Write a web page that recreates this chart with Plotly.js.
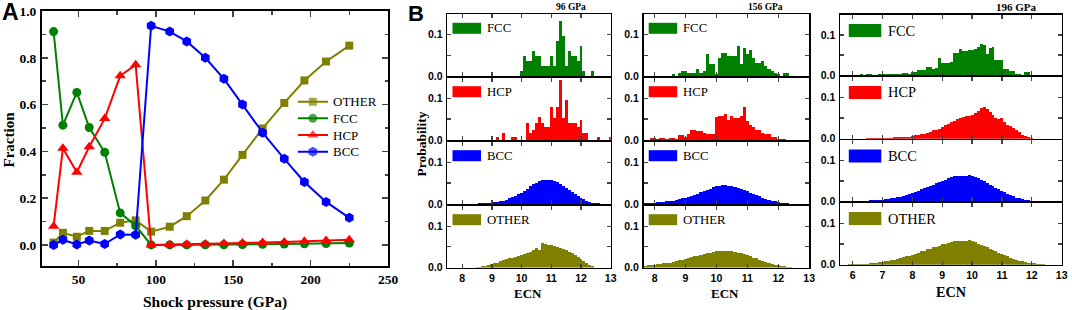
<!DOCTYPE html>
<html><head><meta charset="utf-8">
<script src="https://cdn.plot.ly/plotly-3.0.1.min.js"></script>
<style>body{margin:0;background:#fff}#chart{width:1072px;height:310px}</style>
</head><body><div id="chart"></div>
<script>
// ---------- Panel A data ----------
const pressure  = [34,40,49,57,67,77,87,97,109,120,132,144,156,169,183,196,210,225];
const fracOther = [0.010,0.052,0.035,0.060,0.060,0.095,0.105,0.057,0.078,0.123,0.190,0.279,0.385,0.498,0.607,0.703,0.784,0.852];
const fracFCC   = [0.912,0.512,0.652,0.502,0.396,0.137,0.082,0.000,0.000,0.000,0.001,0.001,0.002,0.003,0.004,0.005,0.006,0.008];
const fracHCP   = [0.080,0.413,0.311,0.420,0.540,0.723,0.770,0.000,0.002,0.003,0.004,0.006,0.008,0.010,0.013,0.016,0.019,0.022];
const fracBCC   = [0.000,0.022,0.002,0.019,0.004,0.045,0.044,0.937,0.912,0.870,0.800,0.710,0.600,0.480,0.368,0.269,0.184,0.116];
const seriesNames = ['OTHER','FCC','HCP','BCC'];
const pressureTicks = [50,100,150,200,250];
const fractionTicks = [0,0.2,0.4,0.6,0.8,1.0];

// ---------- Panel B data (probability per ECN bin, bin width 0.1) ----------
const binWidth = 0.1;
const phases = ['FCC','HCP','BCC','OTHER'];
const panelTitles = ['96 GPa','156 GPa','196 GPa'];
const ecnTicks = [[8,9,10,11,12,13],[8,9,10,11,12,13],[6,7,8,9,10,11,12,13]];
const probTicks = [0,0.1];

const fcc96Start = 10.0;
const fcc96 = [0.012,0.048,0.036,0.036,0.060,0.048,0.048,0.024,0.024,0.024,0.048,0.024,0.084,0.133,0.096,0.024,0.060,0.048,0.048,0.036,0.072,0.012,0,0,0.012];
const hcp96Start = 9.2;
const hcp96 = [0.008,0,0.016,0,0,0.008,0.008,0,0,0,
  0.040,0.016,0.024,0.040,0.056,0.040,0.032,0.032,
  0.080,0.053,0.080,0.143,0.053,0.096,0.040,0.040,0.040,0.032,
  0.048,0.016,0.016,0,0,0,0.008,0,0,0,0.008];
const bcc96Start = 8.6;
const bcc96 = [0.001,0.001,0.002,0.002,0.003,0.004,0.005,0.006,0.008,0.010,
  0.013,0.016,0.019,0.023,0.027,0.032,0.037,0.042,0.047,0.051,
  0.055,0.057,0.058,0.058,0.057,0.055,0.052,0.048,0.044,0.039,
  0.034,0.029,0.024,0.019,0.015,0.011,0.008,0.005,0.003,0.002,0.001];
const other96Start = 8.5;
const other96 = [0.001,0.002,0.003,0.004,0.006,0.008,0.010,0.012,0.015,0.017,
  0.020,0.022,0.024,0.026,0.028,0.030,0.032,0.035,0.038,0.042,
  0.047,0.043,0.060,0.058,0.055,0.054,0.052,0.050,0.048,0.045,
  0.042,0.038,0.034,0.030,0.025,0.020,0.015,0.010,0.006,0.003];

const fcc156Start = 8.6;
const fcc156 = [0.004,0,0.008,0.012,0.012,0.008,0.008,0.008,0.016,0.008,
  0.012,0.052,0.028,0.028,0.004,0.044,0.056,0.056,0.048,0.048,
  0.048,0.072,0.028,0.068,0.052,0.064,0.044,0.032,0.032,0.036,
  0.024,0.016,0.012,0.008,0.004,0,0.008,0.008];
const hcp156Start = 7.9;
const hcp156 = [0.005,0.005,0.003,0.005,0.005,0.003,0.004,0.004,0.003,0.011,
  0.011,0.008,0.013,0.025,0.025,0.021,0.021,0.016,0.013,0.013,
  0.013,0.055,0.058,0.058,0.063,0.049,0.058,0.053,0.053,0.058,
  0.080,0.045,0.035,0.031,0.024,0.024,0.017,0.013,0.013,0.008,
  0.008,0.003,0.003,0.002];
const bcc156Start = 7.7;
const bcc156 = [0.002,0.002,0.003,0.003,0.004,0.004,0.005,0.006,0.007,0.008,
  0.009,0.011,0.013,0.015,0.017,0.020,0.022,0.025,0.028,0.031,
  0.034,0.037,0.040,0.042,0.044,0.045,0.045,0.044,0.043,0.041,
  0.039,0.036,0.033,0.030,0.027,0.024,0.021,0.018,0.015,0.012,
  0.010,0.008,0.006,0.004,0.003,0.002,0.001];
const other156Start = 7.7;
const other156 = [0.004,0.005,0.006,0.007,0.008,0.009,0.010,0.011,0.012,0.013,
  0.015,0.017,0.019,0.021,0.023,0.025,0.027,0.028,0.030,0.032,
  0.034,0.036,0.038,0.039,0.040,0.041,0.041,0.040,0.039,0.037,
  0.036,0.034,0.032,0.030,0.027,0.024,0.022,0.019,0.016,0.014,
  0.012,0.009,0.007,0.005,0.004,0.003,0.002,0.001];

const fcc196Start = 6.3;
const fcc196 = [0.002,0,0.002,0.002,0,0,0.002,0.002,0.002,0.002,
  0.004,0.004,0.002,0.004,0.006,0.006,0.004,0.008,0.008,0.012,
  0.014,0.012,0.021,0.021,0.016,0.018,0.043,0.031,0.031,0.031,
  0.034,0.055,0.055,0.065,0.059,0.059,0.063,0.063,0.065,0.070,
  0.078,0.075,0.052,0.068,0.071,0.037,0.037,0.037,0.016,0.016,
  0.010,0.010,0.004,0.004,0,0.008,0.008];
const hcp196Start = 6.5;
const hcp196 = [0.001,0.001,0.001,0.001,0.001,0.002,0.002,0.002,0.002,0.003,
  0.003,0.003,0.004,0.004,0.004,0.006,0.008,0.008,0.012,0.012,
  0.015,0.016,0.020,0.022,0.024,0.028,0.032,0.036,0.040,0.044,
  0.048,0.050,0.052,0.054,0.055,0.058,0.062,0.066,0.074,0.078,
  0.072,0.064,0.058,0.050,0.048,0.050,0.040,0.034,0.030,0.026,
  0.020,0.016,0.010,0.006,0.003,0.001];
const bcc196Start = 6.2;
const bcc196 = [0.001,0.001,0.001,0.001,0.002,0.002,0.003,0.003,0.004,0.005,
  0.006,0.007,0.008,0.010,0.011,0.013,0.015,0.018,0.020,0.023,
  0.026,0.029,0.032,0.035,0.038,0.041,0.044,0.047,0.050,0.053,
  0.056,0.059,0.061,0.063,0.063,0.061,0.063,0.065,0.062,0.059,
  0.056,0.052,0.049,0.045,0.041,0.037,0.033,0.029,0.025,0.022,
  0.018,0.015,0.012,0.009,0.007,0.005,0.003,0.002,0.001,0.001];
const other196Start = 5.9;
const other196 = [0.001,0.001,0.001,0.001,0.002,0.002,0.002,0.003,0.004,0.005,
  0.006,0.007,0.008,0.009,0.011,0.012,0.014,0.016,0.018,0.020,
  0.022,0.024,0.027,0.029,0.032,0.034,0.037,0.039,0.042,0.044,
  0.046,0.049,0.051,0.053,0.055,0.057,0.057,0.057,0.057,0.058,
  0.059,0.057,0.054,0.051,0.048,0.045,0.042,0.039,0.035,0.032,
  0.029,0.026,0.023,0.020,0.017,0.014,0.012,0.010,0.008,0.006,
  0.005,0.004,0.003,0.002,0.001,0.001];

const histograms = [
  [[fcc96Start,fcc96],[hcp96Start,hcp96],[bcc96Start,bcc96],[other96Start,other96]],
  [[fcc156Start,fcc156],[hcp156Start,hcp156],[bcc156Start,bcc156],[other156Start,other156]],
  [[fcc196Start,fcc196],[hcp196Start,hcp196],[bcc196Start,bcc196],[other196Start,other196]]
];

// ---------- styling / geometry ----------
const phaseColors = ['#008000','#FF0000','#0000FF','#808000'];
const W = 1072, H = 310;
const px = v => v / W, py = v => 1 - v / H;
const serif = 'Liberation Serif, Times New Roman, serif';
const sans = 'Liberation Sans, Arial, sans-serif';

const lwA = 2, lwB = 1.6;
const colDom = [[446.5,611.5],[642.7,810],[839.3,1062.5]];
const colRange = [[7.5,13],[7.64,13],[5.58,13]];
const rowLines = [
  [13.3,76.7,140.7,204.7,268.3],
  [13.3,76.7,140.7,204.7,268.3],
  [14,76,139.5,202,265.5]
];
const legBox = [ {x0:6,x1:34.5,y0:9.5,y1:20.5,tx:38.5,fs:12.8},
                 {x0:6,x1:34.5,y0:9.5,y1:20.5,tx:38.5,fs:12.8},
                 {x0:9.5,x1:42,y0:10,y1:23,tx:46.5,fs:14.4} ];
const titleFs = [9.5,9.5,11];
const titleX = [571,765,1016.7];
const ecnPos = [[528.3,293,13],[724.5,293,13],[951,292,14.2]];

const traces = [];
const lineColors = ['#808000','#008000','#FF0000','#0000FF'];
const symbols = ['square','circle','triangle-up','hexagon'];
const sizes = [8,9,10,10];
const series = [fracOther, fracFCC, fracHCP, fracBCC];
series.forEach((s,i)=>traces.push({
  type:'scatter', mode:'lines+markers', x:pressure, y:s, name:seriesNames[i],
  line:{color:lineColors[i], width:2},
  marker:{symbol:symbols[i], size:sizes[i], color:lineColors[i], line:{width:0}},
  xaxis:'x', yaxis:'y', hoverinfo:'skip', showlegend:false
}));
// hand-made legend for panel A (rows 16.65 px apart), drawn in an invisible helper axis
seriesNames.forEach((nm,i)=>traces.push({
  type:'scatter', mode:'lines+markers', x:[0,0.5,1], y:[3.5-i,3.5-i,3.5-i],
  line:{color:lineColors[i], width:2},
  marker:{symbol:symbols[i], size:[0,sizes[i],0], color:lineColors[i], line:{width:0}},
  xaxis:'x14', yaxis:'y14', hoverinfo:'skip', showlegend:false
}));

const layout = {
  width:W, height:H, margin:{l:0,r:0,t:0,b:0},
  paper_bgcolor:'#fff', plot_bgcolor:'rgba(0,0,0,0)',
  font:{family:serif, color:'#000'},
  bargap:0, showlegend:false,
  xaxis:{domain:[px(41+lwA/2),px(389-lwA/2)], range:[26.5,250], anchor:'y',
    tickmode:'array', tickvals:pressureTicks, ticks:'inside', ticklen:6, tickwidth:1.5,
    minor:{dtick:25, tick0:0, ticks:'inside', ticklen:3.5, tickwidth:1.5},
    showline:true, linewidth:lwA, linecolor:'#000', mirror:'allticks',
    showgrid:false, zeroline:false, ticklabelstandoff:0,
    tickfont:{family:serif, size:13.5, weight:'bold', color:'#000'}},
  yaxis:{domain:[py(267-lwA/2),py(10+lwA/2)], range:[-0.09,1.0], anchor:'x',
    tickmode:'array', tickvals:fractionTicks, tickformat:'.1f', ticks:'inside', ticklen:6, tickwidth:1.5,
    minor:{dtick:0.1, tick0:0, ticks:'inside', ticklen:3.5, tickwidth:1.5},
    showline:true, linewidth:lwA, linecolor:'#000', mirror:'allticks',
    showgrid:false, zeroline:false, ticklabelstandoff:1,
    tickfont:{family:serif, size:13.5, weight:'bold', color:'#000'}},
  xaxis14:{domain:[px(297.7),px(328)], range:[0,1], anchor:'y14', visible:false, fixedrange:true},
  yaxis14:{domain:[py(160),py(93.4)], range:[0,4], anchor:'x14', visible:false, fixedrange:true},
  shapes:[], annotations:[]
};
seriesNames.forEach((nm,i)=>layout.annotations.push({xref:'paper', yref:'paper',
  x:px(331), y:py(101.7+16.65*i), xanchor:'left', yanchor:'middle', text:nm, showarrow:false,
  font:{family:serif, size:13, color:'#000'}}));

histograms.forEach((col,c)=>col.forEach(([x0,vals],r)=>{
  const n = 2 + c*4 + r;
  traces.push({type:'bar', x0:x0, dx:binWidth, y:vals, xaxis:'x'+n, yaxis:'y'+n,
    marker:{color:phaseColors[r], line:{width:0}}, showlegend:false, hoverinfo:'skip'});
  const top = rowLines[c][r], bot = rowLines[c][r+1];
  layout['xaxis'+n] = {domain:[px(colDom[c][0]+lwB/2),px(colDom[c][1]-lwB/2)], range:colRange[c], anchor:'y'+n,
    tickmode:'array', tickvals:ecnTicks[c], ticks:'inside', ticklen:4, tickwidth:1.3,
    showticklabels: r===3, showline:true, linewidth:lwB, linecolor:'#000', mirror:'allticks',
    showgrid:false, zeroline:false, ticklabelstandoff:0,
    tickfont:{family:sans, size:10.5, weight:'bold', color:'#000'}};
  layout['yaxis'+n] = {domain:[py(bot-lwB/2),py(top+lwB/2)], range:[0,0.15], anchor:'x'+n,
    tickmode:'array', tickvals:probTicks, tickformat:'.1f', ticks:'inside', ticklen:4, tickwidth:1.3,
    minor:{tickmode:'array', tickvals:[0.05], ticks:'inside', ticklen:4, tickwidth:1.3},
    showline:true, linewidth:lwB, linecolor:'#000', mirror:'allticks',
    showgrid:false, zeroline:false, ticklabelstandoff:1,
    tickfont:{family:sans, size:10.5, weight:'bold', color:'#000'}};
  const lb = legBox[c], left = colDom[c][0];
  layout.shapes.push({type:'rect', xref:'paper', yref:'paper',
    x0:px(left+lb.x0), x1:px(left+lb.x1), y0:py(top+lb.y1), y1:py(top+lb.y0),
    fillcolor:phaseColors[r], line:{width:0}});
  layout.annotations.push({xref:'paper', yref:'paper', x:px(left+lb.tx), y:py(top+(lb.y0+lb.y1)/2),
    xanchor:'left', yanchor:'middle', text:phases[r], showarrow:false,
    font:{family:serif, size:lb.fs, color:'#000'}});
}));

panelTitles.forEach((t,c)=>layout.annotations.push({xref:'paper', yref:'paper', x:px(titleX[c]), y:py(7.5),
  xanchor:'center', yanchor:'middle', text:t, showarrow:false,
  font:{family:serif, size:titleFs[c], weight:'bold', color:'#000'}}));
ecnPos.forEach(p=>layout.annotations.push({xref:'paper', yref:'paper', x:px(p[0]), y:py(p[1]),
  xanchor:'center', yanchor:'middle', text:'ECN', showarrow:false,
  font:{family:serif, size:p[2], weight:'bold', color:'#000'}}));
layout.annotations.push(
  {xref:'paper', yref:'paper', x:px(420.5), y:py(144), textangle:-90, xanchor:'center', yanchor:'middle',
   text:'Probability', showarrow:false, font:{family:serif, size:13.5, weight:'bold', color:'#000'}},
  {xref:'paper', yref:'paper', x:px(8.5), y:py(140), textangle:-90, xanchor:'center', yanchor:'middle',
   text:'Fraction', showarrow:false, font:{family:serif, size:15, weight:'bold', color:'#000'}},
  {xref:'paper', yref:'paper', x:px(215), y:py(301.5), xanchor:'center', yanchor:'middle',
   text:'Shock pressure (GPa)', showarrow:false, font:{family:serif, size:15.5, weight:'bold', color:'#000'}},
  {xref:'paper', yref:'paper', x:px(10), y:py(12), xanchor:'center', yanchor:'middle',
   text:'A', showarrow:false, font:{family:sans, size:23, weight:'bold', color:'#000'}},
  {xref:'paper', yref:'paper', x:px(416), y:py(13), xanchor:'center', yanchor:'middle',
   text:'B', showarrow:false, font:{family:sans, size:22, weight:'bold', color:'#000'}}
);

Plotly.newPlot('chart', traces, layout, {staticPlot:true, displayModeBar:false});
</script>
</body></html>
